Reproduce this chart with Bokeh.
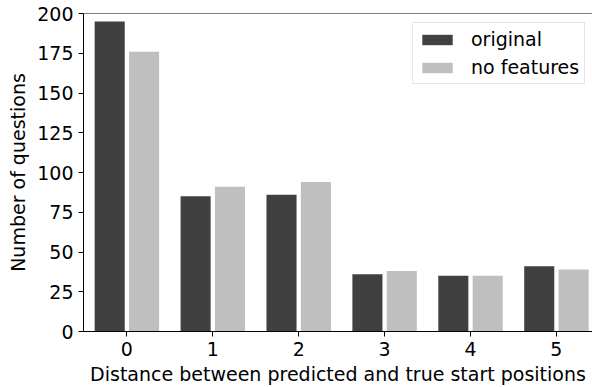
from bokeh.plotting import figure
from bokeh.models import ColumnDataSource, FixedTicker, Range1d, Span
from bokeh.transform import dodge
from bokeh.embed import file_html
from bokeh.resources import INLINE

distances = [0, 1, 2, 3, 4, 5]
original = [195, 85, 86, 36, 35, 41]
no_features = [176, 91, 94, 38, 35, 39]
y_ticks = [0, 25, 50, 75, 100, 125, 150, 175, 200]

src = ColumnDataSource(data=dict(x=distances, original=original, nofeat=no_features))

p = figure(width=592, height=387, output_backend="svg", toolbar_location=None,
           x_range=Range1d(-0.505, 5.42), y_range=Range1d(0, 200),
           min_border_left=83, min_border_right=0, min_border_top=13, min_border_bottom=55)

p.vbar(x=dodge('x', -0.2), top='original', width=0.35, source=src,
       fill_color="#404040", line_color=None, legend_label="original")
p.vbar(x=dodge('x', 0.2), top='nofeat', width=0.35, source=src,
       fill_color="#bfbfbf", line_color=None, legend_label="no features")

p.add_layout(Span(location=200, dimension='width', line_color='black', line_width=1))

p.outline_line_color = None
p.xgrid.grid_line_color = None
p.ygrid.grid_line_color = None

font = "DejaVu Sans"
for ax in (p.xaxis[0], p.yaxis[0]):
    ax.axis_line_color = "black"
    ax.major_tick_line_color = "black"
    ax.minor_tick_line_color = None
    ax.major_tick_out = 5
    ax.major_tick_in = 0
    ax.major_label_text_font = font
    ax.major_label_text_font_size = "19px"
    ax.major_label_text_color = "black"
    ax.axis_label_text_font = font
    ax.axis_label_text_font_size = "19px"
    ax.axis_label_text_font_style = "normal"
    ax.axis_label_text_color = "black"

p.xaxis.ticker = FixedTicker(ticks=distances)
p.yaxis.ticker = FixedTicker(ticks=y_ticks)
p.xaxis.axis_label = "Distance between predicted and true start positions"
p.yaxis.axis_label = "Number of questions"
p.xaxis.major_label_standoff = 5
p.xaxis.axis_label_standoff = 4
p.yaxis.major_label_standoff = 5
p.yaxis.axis_label_standoff = 5

lg = p.legend[0]
lg.location = (329, 247)
lg.padding = 5
lg.spacing = 6
lg.glyph_width = 38
lg.glyph_height = 13
lg.label_height = 20
lg.label_standoff = 15
lg.label_text_font = font
lg.label_text_font_size = "19px"
lg.label_text_color = "black"
lg.border_line_color = "#cccccc"
lg.border_line_width = 1
lg.background_fill_alpha = 0.8

open("out.html", "w").write(file_html(p, INLINE))
